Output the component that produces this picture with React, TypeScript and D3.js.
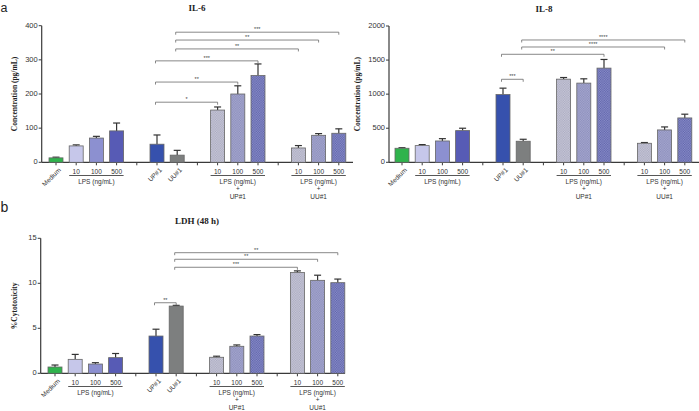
import * as d3 from "d3";

// bar order, left to right; the gap slots separate the treatment groups
const categories = [
  "Medium", "LPS 10", "LPS 100", "LPS 500", "UP#1", "UU#1",
  "LPS 10 + UP#1", "LPS 100 + UP#1", "LPS 500 + UP#1",
  "LPS 10 + UU#1", "LPS 100 + UU#1", "LPS 500 + UU#1",
];
const slots = [
  "Medium", "LPS 10", "LPS 100", "LPS 500", "gap1", "UP#1", "UU#1", "gap2",
  "LPS 10 + UP#1", "LPS 100 + UP#1", "LPS 500 + UP#1", "gap3",
  "LPS 10 + UU#1", "LPS 100 + UU#1", "LPS 500 + UU#1",
];
const doseLabels = ["10", "100", "500"];

const il6Values = [13, 48, 71, 92, 53, 21, 153, 200, 254, 42, 79, 85];
const il6Errors = [2, 3, 5, 23, 27, 14, 9, 24, 34, 7, 5, 13];
const il6Ticks = [0, 100, 200, 300, 400];

const il8Values = [206, 245, 313, 465, 994, 309, 1220, 1162, 1382, 279, 475, 651];
const il8Errors = [8, 15, 34, 35, 94, 29, 24, 63, 127, 11, 44, 55];
const il8Ticks = [0, 500, 1000, 1500, 2000];

const ldhValues = [0.7, 1.55, 1.03, 1.74, 4.14, 7.47, 1.78, 3.0, 4.14, 11.2, 10.33, 10.07];
const ldhErrors = [0.22, 0.55, 0.15, 0.46, 0.76, 0.08, 0.12, 0.15, 0.16, 0.18, 0.57, 0.4];
const ldhTicks = [0, 5, 10, 15];

type Bracket = { from: string; to: string; y: number; label: string };

const il6Brackets: Bracket[] = [
  { from: "UP#1", to: "LPS 10 + UP#1", y: 176, label: "*" },
  { from: "UP#1", to: "LPS 100 + UP#1", y: 235, label: "**" },
  { from: "UP#1", to: "LPS 500 + UP#1", y: 297, label: "***" },
  { from: "UU#1", to: "LPS 10 + UU#1", y: 332, label: "**" },
  { from: "UU#1", to: "LPS 100 + UU#1", y: 358, label: "**" },
  { from: "UU#1", to: "LPS 500 + UU#1", y: 381, label: "***" },
];
const il8Brackets: Bracket[] = [
  { from: "UP#1", to: "UU#1", y: 1218, label: "***" },
  { from: "UP#1", to: "LPS 500 + UP#1", y: 1585, label: "**" },
  { from: "UU#1", to: "LPS 100 + UU#1", y: 1692, label: "****" },
  { from: "UU#1", to: "LPS 500 + UU#1", y: 1795, label: "****" },
];
const ldhBrackets: Bracket[] = [
  { from: "UP#1", to: "UU#1", y: 7.84, label: "**" },
  { from: "UU#1", to: "LPS 10 + UU#1", y: 11.78, label: "***" },
  { from: "UU#1", to: "LPS 100 + UU#1", y: 12.67, label: "**" },
  { from: "UU#1", to: "LPS 500 + UU#1", y: 13.4, label: "**" },
];

const fills = [
  "#2fb34c", "#c6c7ea", "#8c90d0", "#575bb5", "#3651ad", "#7d7f7f",
  "url(#chk1)", "url(#chk2)", "url(#chk3)",
  "url(#chk1)", "url(#chk2)", "url(#chk3)",
];

const SANS = "'Liberation Sans', Arial, sans-serif";
const SERIF = "'Liberation Serif', 'Times New Roman', serif";
const AXIS = "#3a3a3a";

interface PanelProps {
  axisX: number;
  firstCenter: number;
  axisEnd: number;
  top: number;
  base: number;
  ticks: number[];
  values: number[];
  errors: number[];
  brackets: Bracket[];
  title: string;
  titleX: number;
  ylabel: string;
  ylabelX: number;
}

function Panel(p: PanelProps) {
  const step = 20.2;
  const barW = 14;
  const x = d3
    .scalePoint<string>()
    .domain(slots)
    .range([p.firstCenter, p.firstCenter + step * (slots.length - 1)]);
  const y = d3
    .scaleLinear()
    .domain([0, p.ticks[p.ticks.length - 1]])
    .range([p.base, p.top]);
  const cx = (c: string) => x(c) ?? 0;

  const doseGroups = [
    { keys: categories.slice(1, 4), extra: null as string | null },
    { keys: categories.slice(6, 9), extra: "UP#1" },
    { keys: categories.slice(9, 12), extra: "UU#1" },
  ];
  const rotated = ["Medium", "UP#1", "UU#1"];

  return (
    <g>
      <text x={p.titleX} y={p.top - 14.5} textAnchor="middle" fontFamily={SERIF} fontWeight="bold" fontSize={9} fill="#222">
        {p.title}
      </text>
      <text
        transform={`translate(${p.ylabelX},${(p.top + p.base) / 2}) rotate(-90)`}
        textAnchor="middle"
        dominantBaseline="middle"
        fontFamily={SERIF}
        fontWeight="bold"
        fontSize={7.5}
        fill="#222"
      >
        {p.ylabel}
      </text>

      {/* y axis */}
      <line x1={p.axisX} x2={p.axisX} y1={p.base} y2={p.top} stroke={AXIS} strokeWidth={1.2} />
      {p.ticks.map((t) => (
        <g key={t}>
          <line x1={p.axisX - 3} x2={p.axisX} y1={y(t)} y2={y(t)} stroke={AXIS} strokeWidth={1} />
          <text x={p.axisX - 4} y={y(t)} textAnchor="end" dominantBaseline="middle" fontFamily={SANS} fontSize={7.5} fill="#333">
            {t}
          </text>
        </g>
      ))}

      {/* x axis */}
      <line x1={p.axisX} x2={p.axisEnd} y1={p.base} y2={p.base} stroke={AXIS} strokeWidth={1.2} />
      {slots.map((s) => (
        <line key={s} x1={cx(s)} x2={cx(s)} y1={p.base} y2={p.base + 3} stroke={AXIS} strokeWidth={1} />
      ))}

      {/* bars with upper error bars */}
      {categories.map((c, i) => {
        const top = y(p.values[i]);
        const et = y(p.values[i] + p.errors[i]);
        return (
          <g key={c}>
            <line x1={cx(c)} x2={cx(c)} y1={top} y2={et} stroke="#333" strokeWidth={1.2} />
            <line x1={cx(c) - 3.5} x2={cx(c) + 3.5} y1={et} y2={et} stroke="#333" strokeWidth={1.2} />
            <rect
              x={cx(c) - barW / 2}
              y={top}
              width={barW}
              height={p.base - top}
              fill={fills[i]}
              stroke="#666"
              strokeWidth={0.8}
            />
          </g>
        );
      })}

      {/* significance brackets */}
      {p.brackets.map((b, i) => {
        const x1 = cx(b.from) - 1.5;
        const x2 = cx(b.to);
        const by = y(b.y);
        return (
          <g key={i}>
            <path d={`M${x1},${by + 2.5}V${by}H${x2}V${by + 2.5}`} fill="none" stroke="#6a6a6a" strokeWidth={0.8} />
            <text x={(x1 + x2) / 2} y={by - 1.2} textAnchor="middle" fontFamily={SANS} fontSize={5.5} fill="#444">
              {b.label}
            </text>
          </g>
        );
      })}

      {/* category labels */}
      {rotated.map((c) => (
        <text
          key={c}
          transform={`translate(${cx(c) + 4},${p.base + 7}) rotate(-45)`}
          textAnchor="end"
          dominantBaseline="middle"
          fontFamily={SANS}
          fontSize={6.5}
          fill="#333"
        >
          {c}
        </text>
      ))}
      {doseGroups.map((g, gi) => {
        const xa = cx(g.keys[0]);
        const xb = cx(g.keys[2]);
        const mid = (xa + xb) / 2;
        return (
          <g key={gi} fontFamily={SANS} fontSize={6.5} fill="#333" textAnchor="middle">
            {g.keys.map((k, j) => (
              <text key={k} x={cx(k)} y={p.base + 11.8}>
                {doseLabels[j]}
              </text>
            ))}
            <line x1={xa - 7} x2={xb + 7} y1={p.base + 13.2} y2={p.base + 13.2} stroke="#444" strokeWidth={0.9} />
            <text x={mid} y={p.base + 21.3}>LPS (ng/mL)</text>
            {g.extra && (
              <>
                <text x={mid} y={p.base + 28.5}>+</text>
                <text x={mid} y={p.base + 36.5}>{g.extra}</text>
              </>
            )}
          </g>
        );
      })}
    </g>
  );
}

function Checker({ id, base, dot }: { id: string; base: string; dot: string }) {
  return (
    <pattern id={id} width={2.4} height={2.4} patternUnits="userSpaceOnUse">
      <rect width={2.4} height={2.4} fill={base} />
      <rect width={1.2} height={1.2} fill={dot} />
      <rect x={1.2} y={1.2} width={1.2} height={1.2} fill={dot} />
    </pattern>
  );
}

export default function App() {
  return (
    <svg
      width={699}
      height={411}
      style={{ position: "absolute", left: 0, top: 0, background: "#fff" }}
    >
      <defs>
        <Checker id="chk1" base="#c9c9d9" dot="#a9a9c0" />
        <Checker id="chk2" base="#a8aad0" dot="#8a8cbb" />
        <Checker id="chk3" base="#8d91cb" dot="#5e62a9" />
      </defs>
      <rect width={699} height={411} fill="#fff" />

      <text x={0.5} y={12} fontFamily={SANS} fontSize={12.5} fill="#222">a</text>
      <text x={0.5} y={212} fontFamily={SANS} fontSize={14} fill="#222">b</text>

      <Panel
        axisX={41.7}
        firstCenter={56}
        axisEnd={353}
        top={25.7}
        base={162.3}
        ticks={il6Ticks}
        values={il6Values}
        errors={il6Errors}
        brackets={il6Brackets}
        title="IL-6"
        titleX={197}
        ylabel="Concentration (pg/mL)"
        ylabelX={15}
      />
      <Panel
        axisX={389}
        firstCenter={402}
        axisEnd={699}
        top={26}
        base={162.3}
        ticks={il8Ticks}
        values={il8Values}
        errors={il8Errors}
        brackets={il8Brackets}
        title="IL-8"
        titleX={544}
        ylabel="Concentration (pg/mL)"
        ylabelX={358.5}
      />
      <Panel
        axisX={40.7}
        firstCenter={55}
        axisEnd={345}
        top={238.3}
        base={373.3}
        ticks={ldhTicks}
        values={ldhValues}
        errors={ldhErrors}
        brackets={ldhBrackets}
        title="LDH (48 h)"
        titleX={197}
        ylabel="%Cytotoxicity"
        ylabelX={15}
      />
    </svg>
  );
}
